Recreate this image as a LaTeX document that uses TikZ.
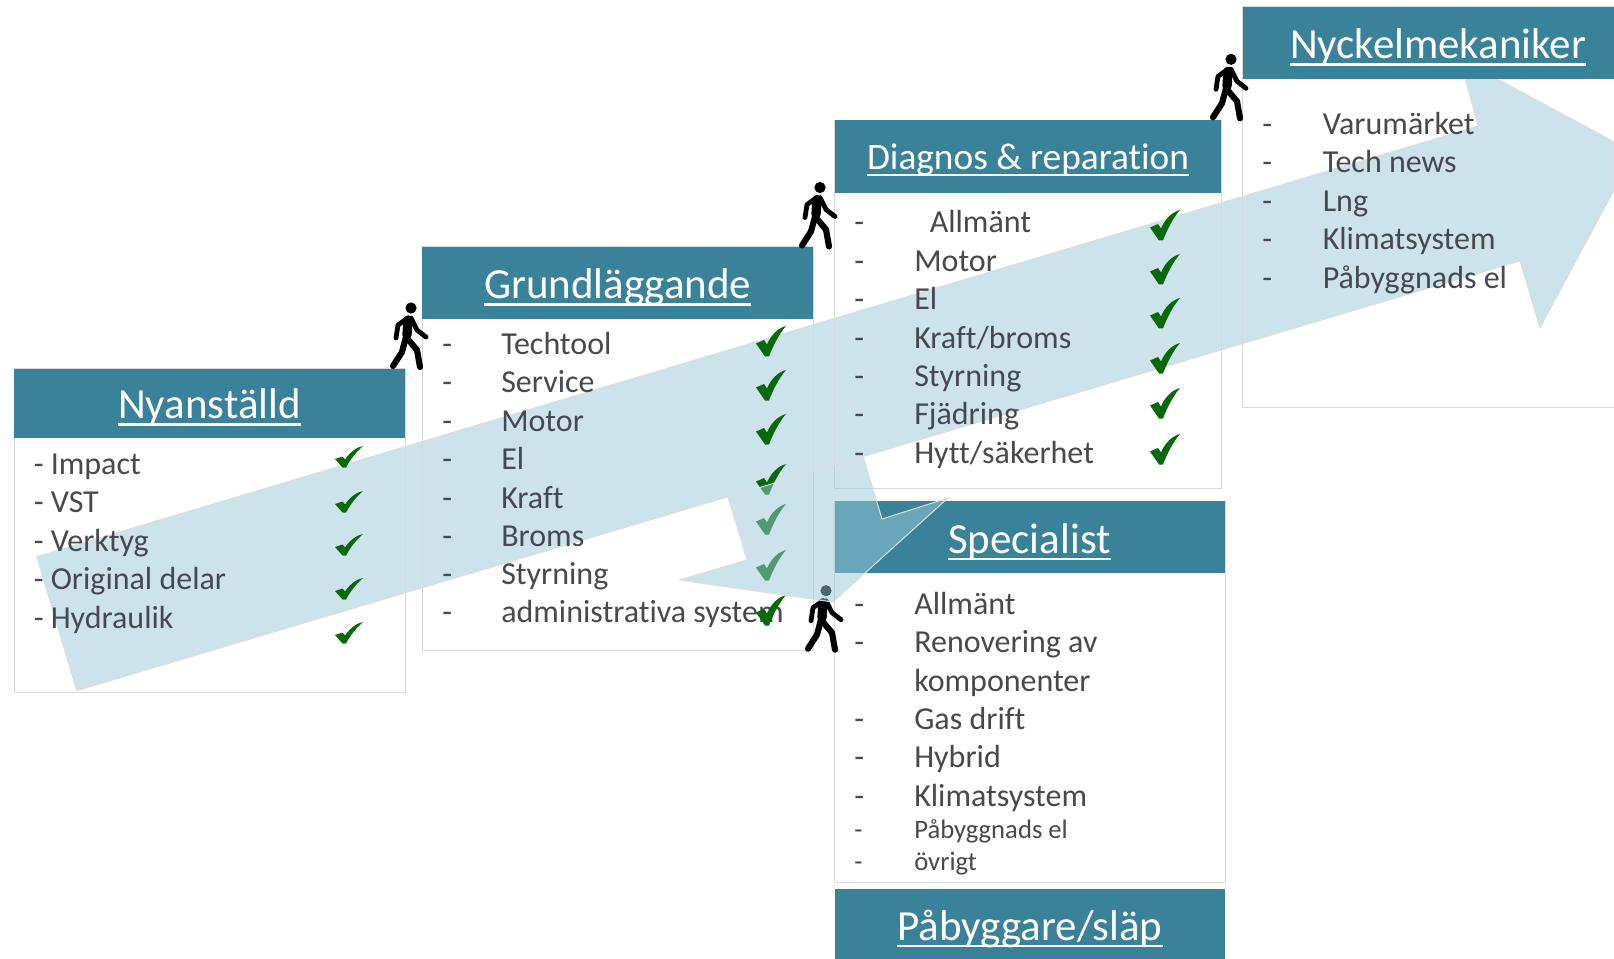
\documentclass[tikz,border=0pt]{standalone}
\usepackage{fontspec}
\setmainfont{Carlito}[Ligatures=CommonOff]
\definecolor{hdr}{RGB}{57,130,153}
\definecolor{arrowc}{RGB}{155,202,218}
\definecolor{arrowl}{RGB}{222,222,220}
\definecolor{txt}{RGB}{72,72,80}
\definecolor{boxl}{RGB}{217,217,217}
\definecolor{chk}{RGB}{6,105,10}
\tikzset{
  x=0.75pt,y=-0.75pt,
  panel/.style={draw=boxl,line width=0.75pt},
  bigarrow/.style={fill=arrowc,fill opacity=0.51,draw=arrowl,line width=0.75pt},
  head/.style={text=white,anchor=base,inner sep=0pt,font=\fontsize{32.2}{36}\selectfont},
  headsm/.style={text=white,anchor=base,inner sep=0pt,font=\fontsize{28}{34}\selectfont},
  item/.style={text=txt,anchor=base west,inner sep=0pt,font=\fontsize{24}{28}\selectfont},
  itemsm/.style={text=txt,anchor=base west,inner sep=0pt,font=\fontsize{20}{24}\selectfont},
  uline/.style={white,line width=1.9pt},
  checkmark/.pic={
    \fill[chk] (0,13) -- (7.5,10.5) -- (10,13.5) .. controls (15,6) and (22,1) .. (28,0)
      .. controls (21,6) and (15,14) .. (11,21.5) -- (7.5,21.5) -- cycle;
  },
  checkbig/.pic={
    \fill[chk] (0,17.5) -- (8,14) -- (11,18.5) .. controls (15,9) and (22,2) .. (30,0)
      .. controls (23,8) and (17,20) .. (13,30.5) -- (9,30.5) -- cycle;
  },
  walker/.pic={
    \fill[black] (0,0) circle[radius=5.6];
    \draw[black,line width=7pt,line cap=round] (-3,12) -- (-4,27);
    \draw[black,line width=3.6pt,line cap=round,line join=round] (-3,10) -- (-13,17) -- (-15,30);
    \draw[black,line width=3.6pt,line cap=round,line join=round] (0,10) -- (6,22) -- (15,29);
    \draw[black,line width=4.6pt,line cap=round,line join=round] (-5,29) -- (-9,44) -- (-18,58);
    \draw[black,line width=4.6pt,line cap=round,line join=round] (-5,29) -- (6,42) -- (9,59);
  }
}
\begin{document}
\begin{tikzpicture}
\clip (0,0) rectangle (1614,959);
\useasboundingbox (0,0) rectangle (1614,959);
\fill[white] (0,0) rectangle (1614,959);
% main arrow
\path[bigarrow] (36.7,556.7) -- (1478.3,126) -- (1459.4,58.7) -- (1614,141.7) -- (1614,190)
  -- (1540,328) -- (1520,261) -- (76.7,690.7) -- cycle;
% panels
\draw[panel] (14,369) rectangle (405,692);
\draw[panel] (422,247) rectangle (813,650);
\draw[panel] (834.5,120.5) rectangle (1221,488);
\draw[panel] (834.5,501) rectangle (1225,882);
\draw[panel] (1242.5,7) rectangle (1620,407);
% headers
\fill[hdr] (14,369) rectangle (405,438);
\fill[hdr] (422,247) rectangle (813,319);
\fill[hdr] (834.5,120.5) rectangle (1221,192.7);
\fill[hdr] (834.5,501) rectangle (1225,573);
\fill[hdr] (834.5,889) rectangle (1225,965);
\fill[hdr] (1242.5,7) rectangle (1620,78.7);
% titles
\node[head] (t1) at (209.5,418.5) {Nyanställd};
\node[head] (t2) at (617.6,298.5) {Grundläggande};
\node[headsm] (t3) at (1028,170) {Diagnos \& reparation};
\node[head] (t4) at (1029.5,553) {Specialist};
\node[head] (t5) at (1030,940) {Påbyggare/släp};
\node[head] (t6) at (1438,58.5) {Nyckelmekaniker};
\foreach \t/\d in {t1/6,t2/6,t3/5,t4/6,t5/6,t6/6}
  \draw[uline] ([yshift=-\d*0.75pt]\t.base west) -- ([yshift=-\d*0.75pt]\t.base east);
% list 1
\node[item] (a1) at (33.5,474) {- Impact};
\node[item] (a2) at (33.5,512) {- VST};
\node[item] (a3) at (33.5,551) {- Verktyg};
\node[item] (a4) at (33.5,589) {- Original delar};
\node[item] (a5) at (33.5,628) {- Hydraulik};
% list 2
\foreach \n/\y/\s in {1/354.5/Techtool,2/392.5/Service,3/431.5/Motor,4/469.5/El,5/508.5/Kraft,6/546.5/Broms,7/584.5/Styrning,8/622.7/administrativa system}{
  \node[item] (bd\n) at (442,\y) {-};
  \node[item] (b\n) at (501,\y) {\s};
}
% list 3
\foreach \n/\y/\s in {2/272/Motor,3/310/El,4/348.5/Kraft\slash broms,5/387/Styrning,6/424.5/Fjädring,7/463.5/Hytt\slash säkerhet}{
  \node[item] (c\n) at (914,\y) {\s};
}
\foreach \n/\y in {1/233,2/272,3/310,4/348.5,5/387,6/424.5,7/463.5}
  \node[item] (cd\n) at (854,\y) {-};
\node[item] (c1) at (929.5,233) {Allmänt};
% list 4
\foreach \n/\y/\s in {1/614/Allmänt,2/652/Renovering av,4/729/Gas drift,5/767.5/Hybrid,6/806/Klimatsystem}{
  \node[item] (dd\n) at (854,\y) {-};
  \node[item] (d\n) at (914,\y) {\s};
}
\node[item] (d3) at (914,691) {komponenter};
\node[itemsm] (dd7) at (854,838) {-};
\node[itemsm] (d7) at (914,838) {Påbyggnads el};
\node[itemsm] (dd8) at (854,870) {-};
\node[itemsm] (d8) at (914,870) {övrigt};
% list 5
\foreach \n/\y/\s in {1/134.5/Varumärket,2/172.5/Tech news,3/211.5/Lng,4/250/Klimatsystem,5/288.3/Påbyggnads el}{
  \node[item] (ed\n) at (1262,\y) {-};
  \node[item] (e\n) at (1322.5,\y) {\s};
}
% checks
\foreach \y in {446,491,534,578,622} \pic at (335,\y) {checkmark};
\foreach \y in {326,370,414,464,504,550,595} \pic at (756,\y) {checkbig};
\foreach \y in {210,254,298,343,388,434} \pic at (1150,\y) {checkbig};
% walkers
\pic at (411,308) {walker};
\pic at (820,187.5) {walker};
\pic at (826,590.7) {walker};
\pic at (1231,59.3) {walker};
% branch arrow
\path[bigarrow] (728,497) -- (747,560) -- (679,580) -- (833,602) -- (948,498) -- (882,519) -- (863.3,456.6) -- cycle;
\end{tikzpicture}
\end{document}
